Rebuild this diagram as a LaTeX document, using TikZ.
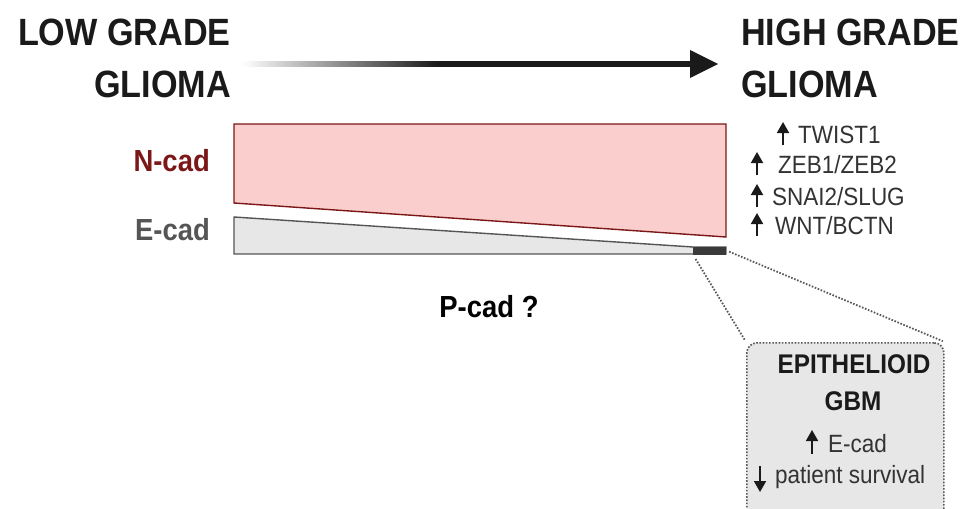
\documentclass[tikz,border=0pt]{standalone}
\usepackage{fontspec}
\setmainfont{Liberation Sans}[FakeStretch=0.9]
\usepackage{tikz}
\usetikzlibrary{arrows.meta, calc, positioning}
\definecolor{ncadred}{HTML}{7B1717}
\definecolor{ncadfill}{HTML}{F9CECC}
\definecolor{ecadgrey}{HTML}{555555}
\definecolor{ecadfill}{HTML}{E7E7E7}
\definecolor{tipgrey}{HTML}{3A3A3A}
\definecolor{inkblack}{HTML}{1A1A1A}
\tikzstyle{basefont}=[font=\fontsize{25}{30}\selectfont]
\tikzstyle{title}=[font=\bfseries\fontsize{38}{45}\selectfont, text=inkblack, inner sep=0pt]
\tikzstyle{cadlabel}=[font=\bfseries\fontsize{30.5}{35}\selectfont, inner sep=0pt, anchor=base east]
\tikzstyle{boxtitle}=[font=\bfseries\fontsize{27}{30}\selectfont, text=inkblack, inner sep=0pt, anchor=base]
\tikzstyle{gene}=[basefont, inner sep=0pt, anchor=base west, text=black!80]
\tikzstyle{uparrow}=[line width=1.8pt, inkblack, -{Triangle[width=12pt, length=11pt]}]
\tikzstyle{wedge}=[line width=1.4pt, line join=miter]
\tikzstyle{zoombox}=[draw=black!65, fill=ecadfill, line width=1.7pt, dash pattern=on 1.6pt off 1.6pt, rounded corners=10pt]
\tikzstyle{zoomline}=[draw=black!65, line width=1.8pt, dash pattern=on 1.6pt off 1.6pt]

\begin{document}
\begin{tikzpicture}[x=1pt, y=-1pt]
        \useasboundingbox (0,0) rectangle (978,509);

        % Grade titles
        \node[title, anchor=base east] (low1) at (231,45) {LOW GRADE};
        \node[title, anchor=base east] (low2) at (231,97) {GLIOMA};
        \node[title, anchor=base west] (high1) at (741,45) {HIGH GRADE};
        \node[title, anchor=base west] (high2) at (741,97) {GLIOMA};

        % Progression arrow, fading in from the left
        \coordinate (arr-start) at (242,64);
        \coordinate (arr-mid) at (437,64);
        \coordinate (arr-end) at (718,64);
        \shade[left color=white, right color=inkblack]
            ($(arr-start)+(0,-2.6)$) rectangle ($(arr-mid)+(0,2.6)$);
        \fill[inkblack] ($(arr-mid)+(-0.5,-2.6)$) rectangle ($(arr-end)+(-26,2.6)$);
        \fill[inkblack] (arr-end) -- ++(-28,-14) -- ++(0,28) -- cycle;

        % Cadherin wedges
        \draw[wedge, draw=ncadred, fill=ncadfill]
            (234,124) -- (726,124) -- (726,237) -- (234,203) -- cycle;
        \draw[wedge, draw=ecadgrey, fill=ecadfill]
            (234,217) -- (693,247) -- (726,247) -- (726,254) -- (234,254) -- cycle;
        \node[fill=tipgrey, minimum width=33pt, minimum height=8pt, inner sep=0pt,
              anchor=south west] (ecad-tip) at (693,254.7) {};

        \node[cadlabel, text=ncadred] (ncad) at (210,171) {N-cad};
        \node[cadlabel, text=ecadgrey] (ecad) at (210,240) {E-cad};
        \node[cadlabel, anchor=base, text=black] (pcad) at (489,317) {P-cad ?};

        % Upregulated transcription factors
        \foreach \gene/\x/\ax/\y [count=\i] in {
            TWIST1/798/783/143,
            {ZEB1/ZEB2}/778/757/173,
            {SNAI2/SLUG}/772/757/205,
            {WNT/BCTN}/775/757/234
        }{
            \node[gene] (g\i) at (\x,\y) {\gene};
            \draw[uparrow] (\ax,\y+2) -- ++(0,-23);
        }

        % Zoomed box for the epithelioid subtype
        \begin{scope}
            \clip (0,0) rectangle (978,509);
            \node[zoombox, minimum width=197pt, minimum height=200pt, anchor=north west]
                (gbm) at (746,342) {};
        \end{scope}
        \draw[zoomline, shorten <=5pt, shorten >=2pt] (ecad-tip.south west) -- (gbm.north west);
        \draw[zoomline, shorten <=3pt, shorten >=2pt] (ecad-tip.east) -- (gbm.north east);

        \node[boxtitle] (epi) at (854,373) {EPITHELIOID};
        \node[boxtitle] (gbm-title) at (853,410) {GBM};
        \node[gene] (ecad-up) at (828,452) {E-cad};
        \draw[uparrow] (812,454) -- ++(0,-24);
        \node[gene] (survival) at (775,483) {patient survival};
        \draw[uparrow] (760,466) -- ++(0,26);
\end{tikzpicture}
\end{document}
